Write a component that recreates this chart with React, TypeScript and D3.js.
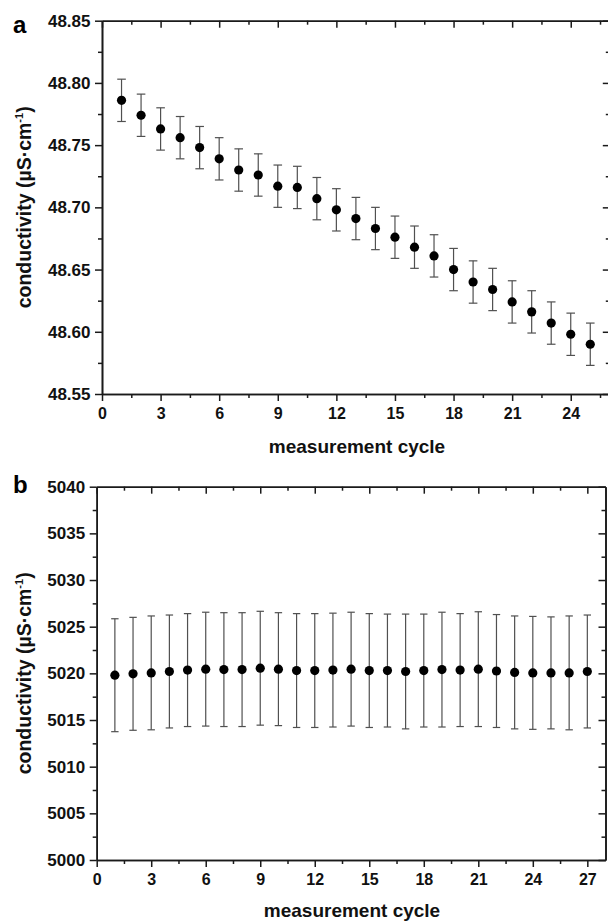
import React, { useEffect, useRef } from "react";
import * as d3 from "d3";

// panel a
const cyclesA = [1, 2, 3, 4, 5, 6, 7, 8, 9, 10, 11, 12, 13, 14, 15, 16, 17, 18, 19, 20, 21, 22, 23, 24, 25];
const conductivityA = [
  48.786, 48.774, 48.763, 48.756, 48.748, 48.739, 48.73, 48.726, 48.717, 48.716,
  48.707, 48.698, 48.691, 48.683, 48.676, 48.668, 48.661, 48.65, 48.64, 48.634,
  48.624, 48.616, 48.607, 48.598, 48.59,
];
const errorA = [
  0.017, 0.017, 0.017, 0.017, 0.017, 0.017, 0.017, 0.017, 0.017, 0.017,
  0.017, 0.017, 0.017, 0.017, 0.017, 0.017, 0.017, 0.017, 0.017, 0.017,
  0.017, 0.017, 0.017, 0.017, 0.017,
];
const xTicksA = [0, 3, 6, 9, 12, 15, 18, 21, 24];
const yTicksA = [48.55, 48.6, 48.65, 48.7, 48.75, 48.8, 48.85];

// panel b
const cyclesB = [1, 2, 3, 4, 5, 6, 7, 8, 9, 10, 11, 12, 13, 14, 15, 16, 17, 18, 19, 20, 21, 22, 23, 24, 25, 26, 27];
const conductivityB = [
  5019.8, 5019.95, 5020.05, 5020.2, 5020.35, 5020.45, 5020.4, 5020.4, 5020.55, 5020.45,
  5020.3, 5020.3, 5020.35, 5020.45, 5020.3, 5020.3, 5020.2, 5020.3, 5020.4, 5020.35,
  5020.45, 5020.25, 5020.1, 5020.05, 5020.05, 5020.05, 5020.2,
];
const errorB = [
  6.05, 6.05, 6.1, 6.05, 6.05, 6.1, 6.1, 6.1, 6.1, 6.05,
  6.1, 6.1, 6.1, 6.1, 6.1, 6.05, 6.15, 6.05, 6.15, 6.05,
  6.15, 6.05, 6.05, 6.05, 6.0, 6.1, 6.05,
];
const xTicksB = [0, 3, 6, 9, 12, 15, 18, 21, 24, 27];
const yTicksB = [5000, 5005, 5010, 5015, 5020, 5025, 5030, 5035, 5040];

const FONT = "Arial, 'Liberation Sans', Helvetica, sans-serif";
const AXIS_COLOR = "#1a1a1a";

const drawPanel = (svg, cfg) => {
  const { left, right, top, bottom } = cfg;
  const x = d3.scaleLinear().domain(cfg.xDomain).range([left, right]);
  const y = d3.scaleLinear().domain(cfg.yDomain).range([bottom, top]);

  const step = cfg.xTicks[1] - cfg.xTicks[0];
  const xMinor = d3.range(cfg.xDomain[0] + step / 2, cfg.xDomain[1], step);
  const yStep = cfg.yTicks[1] - cfg.yTicks[0];
  const yMinor = d3.range(cfg.yDomain[0] + yStep / 2, cfg.yDomain[1], yStep);

  const g = svg.append("g");

  const style = (size) => (sel) => {
    sel.selectAll("path").attr("stroke", AXIS_COLOR).attr("stroke-width", 1.6);
    sel.selectAll("line").attr("stroke", AXIS_COLOR).attr("stroke-width", 1.5);
    sel.selectAll("text")
      .attr("fill", "#111")
      .attr("font-family", FONT)
      .attr("font-weight", "bold")
      .attr("font-size", size);
  };

  // bottom
  g.append("g")
    .attr("transform", `translate(0,${bottom})`)
    .call(d3.axisBottom(x).tickValues(cfg.xTicks).tickSize(7).tickSizeOuter(0).tickPadding(7).tickFormat(d3.format("d")))
    .call(style(16));
  g.append("g")
    .attr("transform", `translate(0,${bottom})`)
    .call(d3.axisBottom(x).tickValues(xMinor).tickSize(4).tickSizeOuter(0).tickFormat(""))
    .call(style(16));

  // top (ticks inward)
  g.append("g")
    .attr("transform", `translate(0,${top})`)
    .call(d3.axisTop(x).tickValues(cfg.xTicks).tickSize(-7).tickSizeOuter(0).tickFormat(""))
    .call(style(16));
  g.append("g")
    .attr("transform", `translate(0,${top})`)
    .call(d3.axisTop(x).tickValues(xMinor).tickSize(-4).tickSizeOuter(0).tickFormat(""))
    .call(style(16));

  // left
  g.append("g")
    .attr("transform", `translate(${left},0)`)
    .call(d3.axisLeft(y).tickValues(cfg.yTicks).tickSize(7).tickSizeOuter(0).tickPadding(4.5).tickFormat(cfg.yFormat))
    .call(style(17));
  g.append("g")
    .attr("transform", `translate(${left},0)`)
    .call(d3.axisLeft(y).tickValues(yMinor).tickSize(4).tickSizeOuter(0).tickFormat(""))
    .call(style(17));

  // right (ticks inward)
  g.append("g")
    .attr("transform", `translate(${right},0)`)
    .call(d3.axisRight(y).tickValues(cfg.yTicks).tickSize(-7).tickSizeOuter(0).tickFormat(""))
    .call(style(17));
  g.append("g")
    .attr("transform", `translate(${right},0)`)
    .call(d3.axisRight(y).tickValues(yMinor).tickSize(-4).tickSizeOuter(0).tickFormat(""))
    .call(style(17));

  const pts = cfg.xs.map((c, i) => ({ c, v: cfg.values[i], e: cfg.errors[i] }));

  // error bars
  const eb = g.append("g").attr("stroke", "#505050").attr("stroke-width", 1.2);
  pts.forEach((d) => {
    eb.append("line").attr("x1", x(d.c)).attr("x2", x(d.c)).attr("y1", y(d.v - d.e)).attr("y2", y(d.v + d.e));
    eb.append("line").attr("x1", x(d.c) - cfg.cap).attr("x2", x(d.c) + cfg.cap).attr("y1", y(d.v + d.e)).attr("y2", y(d.v + d.e));
    eb.append("line").attr("x1", x(d.c) - cfg.cap).attr("x2", x(d.c) + cfg.cap).attr("y1", y(d.v - d.e)).attr("y2", y(d.v - d.e));
  });

  // points
  g.append("g")
    .selectAll("circle")
    .data(pts)
    .join("circle")
    .attr("cx", (d) => x(d.c))
    .attr("cy", (d) => y(d.v))
    .attr("r", 4.6)
    .attr("fill", "#000");

  // x title
  g.append("text")
    .attr("x", cfg.xTitleX)
    .attr("y", cfg.xTitleY)
    .attr("text-anchor", "middle")
    .attr("font-family", FONT)
    .attr("font-weight", "bold")
    .attr("font-size", 19)
    .attr("fill", "#111")
    .text("measurement cycle");

  // y title
  const yt = g.append("text")
    .attr("transform", `translate(31,${(top + bottom) / 2}) rotate(-90)`)
    .attr("text-anchor", "middle")
    .attr("font-family", FONT)
    .attr("font-weight", "bold")
    .attr("font-size", 19.5)
    .attr("fill", "#111");
  yt.append("tspan").text("conductivity (\u00b5S\u00b7cm");
  yt.append("tspan").attr("font-size", 11).attr("dy", -8).text("-1");
  yt.append("tspan").attr("dy", 8).text(")");

  // panel letter
  g.append("text")
    .attr("x", 13)
    .attr("y", cfg.letterY)
    .attr("font-family", FONT)
    .attr("font-weight", "bold")
    .attr("font-size", 24)
    .attr("fill", "#000")
    .text(cfg.letter);
};

const App = () => {
  const svgRef = useRef(null);

  useEffect(() => {
    const svg = d3.select(svgRef.current);
    svg.selectAll("*").remove();

    drawPanel(svg, {
      left: 102, right: 609.8, top: 20.7, bottom: 394,
      xDomain: [0, 26], yDomain: [48.55, 48.85],
      xTicks: xTicksA, yTicks: yTicksA, yFormat: d3.format(".2f"),
      xs: cyclesA, values: conductivityA, errors: errorA,
      cap: 4.3, xTitleX: 357, xTitleY: 453, letter: "a", letterY: 33,
    });

    drawPanel(svg, {
      left: 96.7, right: 605.5, top: 486.7, bottom: 860,
      xDomain: [0, 28], yDomain: [5000, 5040],
      xTicks: xTicksB, yTicks: yTicksB, yFormat: d3.format("d"),
      xs: cyclesB, values: conductivityB, errors: errorB,
      cap: 3.7, xTitleX: 352, xTitleY: 917, letter: "b", letterY: 493,
    });
  }, []);

  return (
    <svg
      ref={svgRef}
      width={608}
      height={922}
      style={{ position: "absolute", left: 0, top: 0, background: "#fff" }}
    />
  );
};

export default App;
